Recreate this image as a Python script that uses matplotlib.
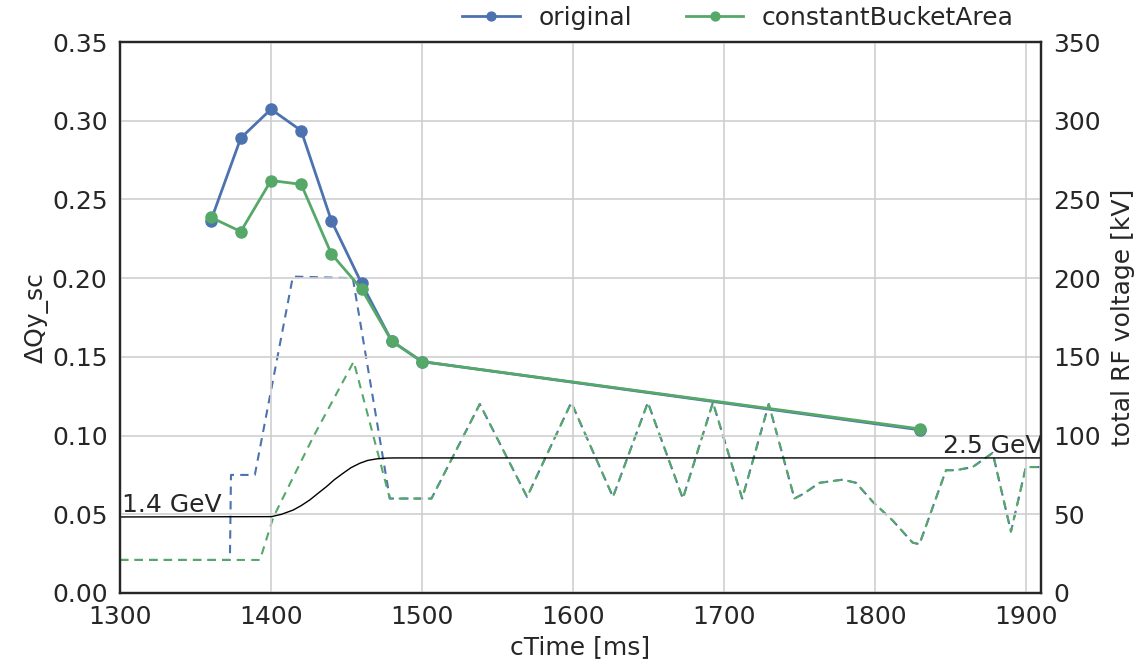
import matplotlib
matplotlib.use("Agg")
import matplotlib.pyplot as plt

# Space-charge tune shift at the sampled cycle times
ctime = [1360, 1380, 1400, 1420, 1440, 1460, 1480, 1500, 1830]
dqy_original = [0.236, 0.289, 0.3073, 0.2937, 0.2365, 0.1967, 0.160, 0.147, 0.1036]
dqy_const_bucket = [0.2387, 0.2296, 0.262, 0.2596, 0.2154, 0.1931, 0.160, 0.147, 0.1042]

# Total RF voltage programmes [kV]
rf_orig_head_t = [1300, 1372.8, 1373.5, 1389.3, 1414.5, 1454.2, 1478.7]
rf_orig_head_kv = [21, 21, 75, 75, 201, 200, 60]
rf_cba_head_t = [1300, 1392.7, 1401.5, 1427.9, 1454.8, 1478.7]
rf_cba_head_kv = [21, 21, 48, 99, 147, 60]
rf_tail_t = [1506.3, 1538.3, 1569.6, 1598.9, 1626.5, 1649.6, 1672.8, 1692.7,
             1712.1, 1729.7, 1746.7, 1752.6, 1763.3, 1778.7, 1787.5, 1798.5,
             1811.8, 1825.0, 1829.5, 1847.1, 1853.7, 1864.7, 1878.0, 1890.1,
             1900.0, 1910.0]
rf_tail_kv = [60, 120, 61, 121, 61, 121, 60, 121,
              60, 120, 60, 63, 70, 72, 70, 58,
              46, 32, 31, 78, 78, 80, 89, 39,
              80, 80]

# Beam energy ramp (scaled onto the left axis)
energy_t = [1300, 1400.4, 1407, 1414.7, 1420, 1425.7, 1431, 1436.8, 1442,
            1447.8, 1453, 1458.8, 1464, 1469.9, 1476.5, 1482, 1910]
energy_y = [0.0483, 0.0485, 0.0500, 0.0527, 0.0555, 0.0591, 0.0632, 0.0676, 0.0720,
            0.0761, 0.0796, 0.0824, 0.0842, 0.0852, 0.0857, 0.0858, 0.0858]

BLUE = "#4C72B0"
GREEN = "#55A868"
TEXT = "#262626"
FS = 18

plt.rcParams.update({
    "font.family": ["DejaVu Sans"],
    "font.size": FS,
    "text.color": TEXT,
    "axes.labelcolor": TEXT,
    "xtick.color": TEXT,
    "ytick.color": TEXT,
})

fig = plt.figure(figsize=(11.4, 6.65), dpi=100)
ax = fig.add_axes([120 / 1140, 72 / 665, 921 / 1140, 551 / 665])
ax2 = ax.twinx()

ax.set_zorder(ax2.get_zorder() + 1)
ax.patch.set_visible(False)

# Right axis: RF voltage
ax2.plot(rf_orig_head_t + rf_tail_t, rf_orig_head_kv + rf_tail_kv,
         color=BLUE, lw=1.5, ls=(0, (4, 3)))
ax2.plot(rf_cba_head_t + rf_tail_t, rf_cba_head_kv + rf_tail_kv,
         color=GREEN, lw=1.5, ls=(0, (4, 3)))
ax2.set_ylim(0, 350)
ax2.set_yticks([0, 50, 100, 150, 200, 250, 300, 350])
ax2.set_ylabel("total RF voltage [kV]", fontsize=FS, labelpad=7)

# Left axis: tune shift and energy
ax.plot(energy_t, energy_y, color="black", lw=1.0)
ax.text(1301, 0.0485, "1.4 GeV", fontsize=FS, va="bottom", ha="left")
ax.text(1845, 0.0860, "2.5 GeV", fontsize=FS, va="bottom", ha="left")
ax.plot(ctime, dqy_original, color=BLUE, lw=2.0, marker="o", ms=8,
        label="original")
ax.plot(ctime, dqy_const_bucket, color=GREEN, lw=2.0, marker="o", ms=8,
        label="constantBucketArea")

ax.set_xlim(1300, 1910)
ax.set_ylim(0, 0.35)
ax.set_xticks([1300, 1400, 1500, 1600, 1700, 1800, 1900])
ax.set_yticks([0.0, 0.05, 0.10, 0.15, 0.20, 0.25, 0.30, 0.35])
ax.set_yticklabels([f"{v:.2f}" for v in ax.get_yticks()])
ax.set_xlabel("cTime [ms]", fontsize=FS, labelpad=4)
ax.set_ylabel("ΔQy_sc", fontsize=FS, labelpad=2)

ax.grid(True, color="#cfcfcf", lw=1.2)
ax.set_axisbelow(True)
for a in (ax, ax2):
    a.tick_params(length=0, pad=9, labelsize=FS)
    for s in a.spines.values():
        s.set_color(TEXT)
        s.set_linewidth(1.6)

fig.legend(loc="center", bbox_to_anchor=(738 / 1140, 1 - 18 / 665), ncol=2,
           frameon=False, fontsize=FS, handlelength=2.3, handletextpad=0.75,
           columnspacing=2.15, markerscale=0.8)

fig.savefig("out.png", dpi=100)
